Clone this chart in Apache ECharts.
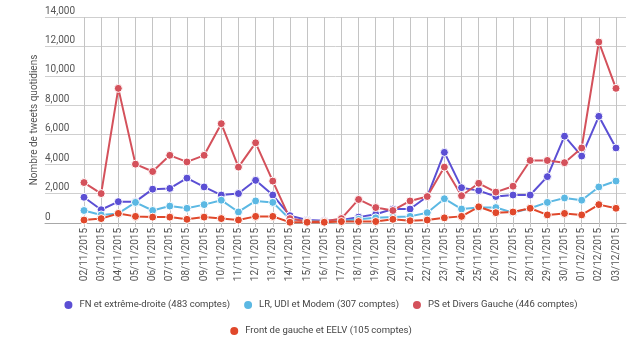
<!DOCTYPE html>
<html><head><meta charset="utf-8">
<script src="https://cdn.jsdelivr.net/npm/echarts@6/dist/echarts.min.js"></script>
<style>html,body{margin:0;padding:0;background:#fff}#c{width:640px;height:342px}</style>
</head><body><div id="c"></div>
<script>
const categories = ["02/11/2015","03/11/2015","04/11/2015","05/11/2015","06/11/2015","07/11/2015","08/11/2015","09/11/2015","10/11/2015","11/11/2015","12/11/2015","13/11/2015","14/11/2015","15/11/2015","16/11/2015","17/11/2015","18/11/2015","19/11/2015","20/11/2015","21/11/2015","22/11/2015","23/11/2015","24/11/2015","25/11/2015","26/11/2015","27/11/2015","28/11/2015","29/11/2015","30/11/2015","01/12/2015","02/12/2015","03/12/2015"];
const seriesNames = ["FN et extrême-droite (483 comptes)","LR, UDI et Modem (307 comptes)","PS et Divers Gauche (446 comptes)","Front de gauche et EELV (105 comptes)"];
const fnValues = [1750,900,1450,1450,2300,2350,3050,2450,1900,2000,2900,1900,500,200,150,200,400,600,950,950,1800,4800,2400,2200,1800,1900,1900,3150,5900,4550,7250,5100];
const lrValues = [850,550,650,1400,850,1150,1000,1250,1550,750,1500,1400,250,150,100,150,250,350,400,450,700,1650,950,1050,1050,700,1000,1400,1700,1550,2450,2850];
const psValues = [2750,2000,9150,4000,3500,4600,4150,4600,6750,3800,5450,2850,300,100,100,300,1600,1050,850,1500,1800,3800,1850,2700,2100,2500,4250,4250,4100,5100,12300,9150];
const fgValues = [200,300,650,450,400,400,250,400,300,200,450,450,50,50,50,100,100,100,250,150,200,350,450,1100,700,750,1000,550,650,550,1250,1000];
const yTicks = {min:0, max:14000, interval:2000};
const axisTitle = "Nombre de tweets quotidiens";

const colors = ['#5b4fd4','#5bb8e3','#d4515b','#e0482b'];
const values = [fnValues, lrValues, psValues, fgValues];
const fam = 'Roboto';

const chart = echarts.init(document.getElementById('c'), null, {renderer:'canvas'});
const legendCommon = {icon:'circle', itemWidth:10, itemHeight:10, itemGap:12, padding:0,
  textStyle:{fontSize:9.5, color:'#444', fontFamily:fam, padding:[0,0,0,1]}};
chart.setOption({
  animation:false,
  color: colors,
  grid:[
    {left:45, right:14, top:17, height:206},
    {left:84, right:24, top:17, height:206}
  ],
  xAxis:[
    {gridIndex:0, type:'value', min:0, max:1, axisLabel:{show:false}, axisTick:{show:false}, splitLine:{show:false},
     axisLine:{show:true, lineStyle:{color:'#a8a8a8', width:1}}},
    {gridIndex:1, type:'category', data:categories, boundaryGap:false,
     axisLine:{show:false},
     axisTick:{show:true, length:4, lineStyle:{color:'#c4c4c4'}},
     splitLine:{show:true, lineStyle:{color:'#c4c4c4', width:1}},
     axisLabel:{rotate:90, interval:0, margin:5, fontSize:10, color:'#555', fontFamily:fam}}
  ],
  yAxis:[
    {gridIndex:0, type:'value', min:yTicks.min, max:yTicks.max, interval:yTicks.interval,
     axisLine:{show:false}, axisTick:{show:false},
     splitLine:{show:true, lineStyle:{color:'#cfcfcf', width:1}},
     axisLabel:{inside:true, margin:0, verticalAlign:'bottom', padding:[0,0,1,0], fontSize:10, color:'#555', fontFamily:fam,
       formatter:v=>v.toLocaleString('en-US')},
     name:axisTitle, nameLocation:'middle', nameGap:6, nameRotate:90, nameMoveOverlap:false,
     nameTextStyle:{fontSize:10, color:'#555', fontFamily:fam}},
    {gridIndex:1, type:'value', min:yTicks.min, max:yTicks.max, show:false, splitLine:{show:false}}
  ],
  legend:[
    Object.assign({data:seriesNames.slice(0,3), top:299, left:'center'}, legendCommon),
    Object.assign({data:seriesNames.slice(3), top:325, left:'center'}, legendCommon)
  ],
  series: seriesNames.map((n,i)=>({
    name:n, type:'line', xAxisIndex:1, yAxisIndex:1, data:values[i],
    symbol:'circle', symbolSize:8, showSymbol:true,
    lineStyle:{width:2, color:colors[i]},
    itemStyle:{color:colors[i], borderColor:'#fff', borderWidth:1}
  }))
});
</script></body></html>
